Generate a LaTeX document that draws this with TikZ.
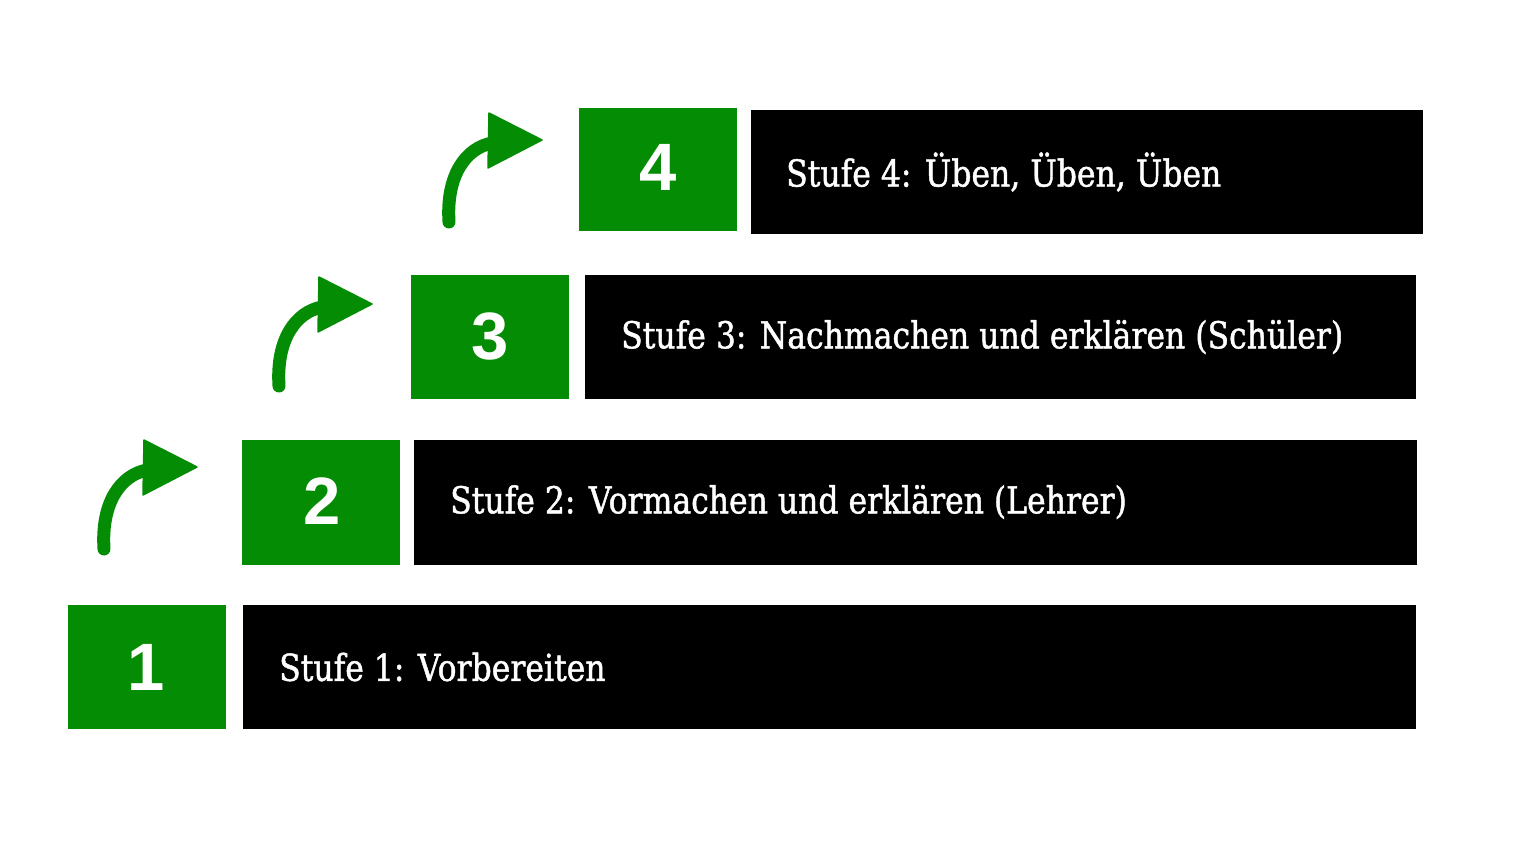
\documentclass[tikz,border=0pt]{standalone}
\usepackage{fontspec}
\setmainfont{DejaVu Serif}[FakeStretch=0.85,FakeBold=1.2]
\newfontfamily\numfont{Liberation Sans}
\definecolor{stepgreen}{RGB}{4,140,4}
\tikzset{
  numbox/.style={fill=stepgreen, inner sep=0pt, anchor=north west},
  labelbox/.style={fill=black, inner sep=0pt, anchor=north west},
  numtext/.style={text=white, inner sep=0pt, font=\numfont\bfseries\fontsize{67}{67}\selectfont},
  stufetext/.style={text=white, anchor=west, inner sep=0pt, font=\fontsize{37}{37}\selectfont},
  shaft/.style={draw=stepgreen, line width=13pt, line cap=round},
  headfill/.style={fill=stepgreen, draw=stepgreen, line width=1.5pt, line join=round}
}
\newcommand{\steparrow}[2]{%
  \draw[shaft] (#1-93,#2+82) .. controls (#1-96,#2+35) and (#1-76,#2+8) .. (#1-50,#2+3);
  \fill[headfill] (#1-53,#2-27) -- (#1,#2) -- (#1-54,#2+28) -- cycle;
}
\begin{document}
\begin{tikzpicture}[x=1pt,y=-1pt]
\useasboundingbox (0,0) rectangle (1536,846);
% row 1
\path[numbox] (68,605) rectangle (226,729);
\node[numtext] (n1) at (146,667) {1};
\path[labelbox] (243,605) rectangle (1416,729);
\node[stufetext] (t1) at (279,667) {Stufe 1: Vorbereiten};
% row 2
\path[numbox] (242,440) rectangle (400,565);
\node[numtext] (n2) at (322,501) {2};
\path[labelbox] (414,440) rectangle (1417,565);
\node[stufetext] (t2) at (450,502) {Stufe 2: Vormachen und erklären (Lehrer)};
% row 3
\path[numbox] (411,275) rectangle (569,399);
\node[numtext] (n3) at (490,336) {3};
\path[labelbox] (585,275) rectangle (1416,399);
\node[stufetext] (t3) at (621,337) {Stufe 3: Nachmachen und erklären (Schüler)};
% row 4
\path[numbox] (579,108) rectangle (737,231);
\node[numtext] (n4) at (658,167) {4};
\path[labelbox] (751,110) rectangle (1423,234);
\node[stufetext] (t4) at (786,172) {Stufe 4: Üben, Üben, Üben};
% arrows
\steparrow{197}{467}
\steparrow{372}{304}
\steparrow{542}{140}
\end{tikzpicture}
\end{document}
